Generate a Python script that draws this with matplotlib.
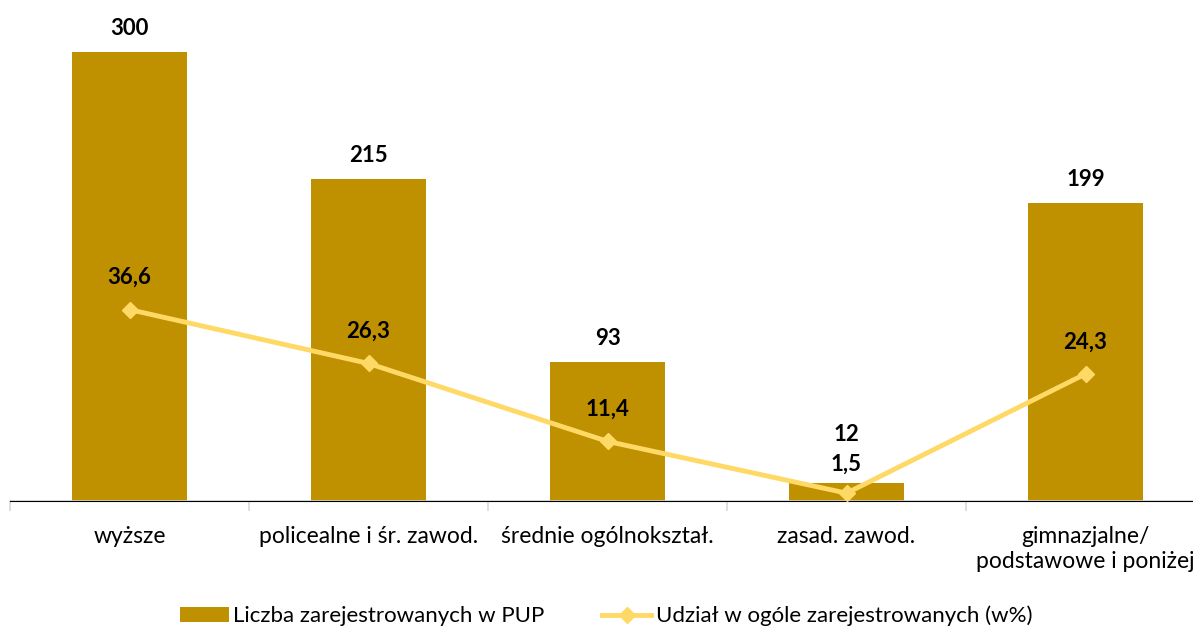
import matplotlib.pyplot as plt
import numpy as np

plt.rcParams['font.family'] = ['Lato', 'DejaVu Sans']

categories = ['wyższe', 'policealne i śr. zawod.', 'średnie ogólnokształ.',
              'zasad. zawod.', 'gimnazjalne/\npodstawowe i poniżej']
counts = [300, 215, 93, 12, 199]
shares = [36.6, 26.3, 11.4, 1.5, 24.3]

bar_color = '#BF9000'
line_color = '#FFD966'

W, H = 1193, 631
fig = plt.figure(figsize=(W / 100, H / 100), dpi=100)
base = 501
ax = fig.add_axes([10 / W, (H - base) / H, 1195 / W, base / H])
x = np.arange(len(categories))

ax.bar(x, counts, width=0.48, color=bar_color, label='Liczba zarejestrowanych w PUP', zorder=2)
ax.set_xlim(-0.5, len(categories) - 0.5)
ax.set_ylim(0, 334.7)
for xi, v in zip(x, counts):
    # the small bar's label is lifted above the line label, as in the original
    off = 35 if v < 20 else 17
    ax.annotate(str(v), (xi, v), xytext=(0, off), textcoords='offset points',
                ha='center', va='center', fontsize=16, fontweight='bold')

ax2 = ax.twinx()
ax2.set_ylim(0, 95.8)
ax2.plot(x, shares, color=line_color, lw=3.5, marker='D', ms=8,
         label='Udział w ogóle zarejestrowanych (w%)', zorder=3)
for xi, v in zip(x, shares):
    off = 21 if v < 5 else 23
    ax2.annotate(f'{v:.1f}'.replace('.', ','), (xi, v), xytext=(0, off),
                 textcoords='offset points', ha='center', va='center',
                 fontsize=16, fontweight='bold')

for a in (ax, ax2):
    for s in ['top', 'right', 'left']:
        a.spines[s].set_visible(False)
    a.set_yticks([])
ax.spines['bottom'].set_color('#D9D9D9')
ax.spines['bottom'].set_linewidth(1.2)

ax.set_xticks(x)
ax.set_xticklabels(categories, fontsize=16.5, linespacing=1.25)
ax.tick_params(axis='x', length=0, pad=18)
ax.set_xticks(np.arange(len(categories) + 1) - 0.5, minor=True)
ax.tick_params(axis='x', which='minor', length=7, color='#D9D9D9', width=1.2)

h1, l1 = ax.get_legend_handles_labels()
h2, l2 = ax2.get_legend_handles_labels()
fig.legend(h1 + h2, l1 + l2, loc='center', bbox_to_anchor=(606 / W, 1 - 616 / H),
           ncol=2, frameon=False, fontsize=16, columnspacing=2.6, handlelength=2.2,
           handletextpad=0.2)

fig.savefig('out.png', dpi=100)
